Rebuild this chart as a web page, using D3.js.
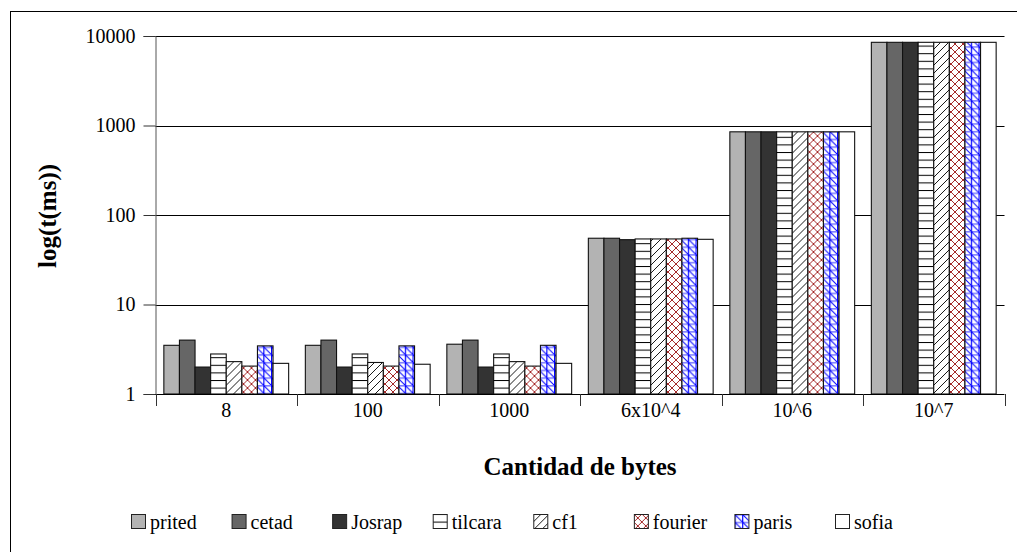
<!DOCTYPE html>
<html>
<head>
<meta charset="utf-8">
<script src="https://cdn.jsdelivr.net/npm/d3@7"></script>
<style>
  html, body { margin: 0; padding: 0; background: #fff; }
  svg { display: block; font-family: "Liberation Serif", "Times New Roman", serif; }
</style>
</head>
<body>
<svg id="chart" width="1017" height="552"></svg>
<script>
// Message sizes and run times (ms) for each program
const categories = ["8", "100", "1000", "6x10^4", "10^6", "10^7"];
const seriesNames = ["prited", "cetad", "Josrap", "tilcara", "cf1", "fourier", "paris", "sofia"];
const prited  = [3.5, 3.5, 3.6, 55, 850, 8500];
const cetad   = [4.0, 4.0, 4.0, 55, 850, 8500];
const josrap  = [2.0, 2.0, 2.0, 53, 850, 8500];
const tilcara = [2.8, 2.8, 2.8, 54, 850, 8500];
const cf1     = [2.3, 2.25, 2.3, 54, 850, 8500];
const fourier = [2.05, 2.05, 2.05, 54, 850, 8500];
const paris   = [3.45, 3.45, 3.5, 55, 850, 8500];
const sofia   = [2.2, 2.15, 2.2, 53.5, 850, 8500];
const seriesValues = [prited, cetad, josrap, tilcara, cf1, fourier, paris, sofia];
const yTicks = [1, 10, 100, 1000, 10000];

const svg = d3.select("#chart");
const defs = svg.append("defs");

// Fill patterns
function pat(id, w, h, draw) {
  const p = defs.append("pattern").attr("id", id)
    .attr("patternUnits", "userSpaceOnUse").attr("width", w).attr("height", h);
  p.append("rect").attr("width", w).attr("height", h).attr("fill", "#fff");
  draw(p, w, h);
}
pat("p-tilcara", 8, 7.6, (p, w, h) => {
  p.append("line").attr("x1", 0).attr("x2", w).attr("y1", 0.5).attr("y2", 0.5)
    .attr("stroke", "#000").attr("stroke-width", 1);
});
pat("p-cf1", 8, 8, (p, w, h) => {
  p.append("path").attr("d", "M-1,9 L9,-1 M-1,1 L1,-1 M7,9 L9,7")
    .attr("stroke", "#000").attr("stroke-width", 0.9).attr("fill", "none");
});
pat("p-fourier", 8, 8, (p, w, h) => {
  p.append("path").attr("d", "M-1,9 L9,-1 M-1,1 L1,-1 M7,9 L9,7 M-1,-1 L9,9 M7,-1 L9,1 M-1,7 L1,9")
    .attr("stroke", "#a52a2a").attr("stroke-width", 1).attr("fill", "none");
});
pat("p-paris", 7.7, 7.7, (p, w, h) => {
  p.append("rect").attr("width", w).attr("height", 1.6).attr("fill", "#7f7fff");
  p.append("rect").attr("width", 1.2).attr("height", h).attr("fill", "#0000ff");
  p.append("path").attr("d", `M0,0 L${w},${h}`)
    .attr("stroke", "#0000ff").attr("stroke-width", 1).attr("fill", "none");
});

const fills = ["#b3b3b3", "#666666", "#333333", "url(#p-tilcara)", "url(#p-cf1)",
               "url(#p-fourier)", "url(#p-paris)", "#ffffff"];

// Outer frame
svg.append("rect").attr("x", 10.5).attr("y", 11.5).attr("width", 1030).attr("height", 560)
  .attr("fill", "none").attr("stroke", "#000").attr("stroke-width", 1);

// Scales
const plotLeft = 155.5, plotRight = 1004.5, plotTop = 36, plotBottom = 394;
const x = d3.scaleBand().domain(categories).range([plotLeft, plotRight]).padding(0);
const xs = d3.scaleBand().domain(seriesNames).range([0, x.bandwidth()])
  .paddingInner(0).paddingOuter(0.535);
const y = d3.scaleLog().domain([1, 10000]).range([plotBottom, plotTop]);

// Gridlines
svg.append("g").selectAll("line").data(yTicks.slice(1)).join("line")
  .attr("x1", plotLeft).attr("x2", plotRight)
  .attr("y1", d => Math.round(y(d)) + 0.5).attr("y2", d => Math.round(y(d)) + 0.5)
  .attr("stroke", "#000").attr("stroke-width", 1);

// Bars
const groups = svg.append("g").selectAll("g").data(categories).join("g")
  .attr("transform", d => `translate(${x(d)},0)`);
groups.selectAll("rect").data((c, ci) => seriesNames.map((s, si) => ({ s, si, v: seriesValues[si][ci] })))
  .join("rect")
  .attr("x", d => xs(d.s))
  .attr("width", xs.bandwidth())
  .attr("y", d => y(d.v))
  .attr("height", d => y(1) - y(d.v))
  .attr("fill", d => fills[d.si])
  .attr("stroke", "#111").attr("stroke-width", 1.1);

// Y axis
const yAxis = d3.axisLeft(y).tickValues(yTicks).tickFormat(d3.format("d"))
  .tickSize(12).tickPadding(8);
const gy = svg.append("g").attr("transform", `translate(${plotLeft},0)`).call(yAxis);
gy.select(".domain").attr("stroke", "#555");
gy.selectAll(".tick line").attr("stroke", "#333");
gy.selectAll("text").attr("font-size", 20).attr("font-family", "Liberation Serif").attr("fill", "#000");

// X axis
const xAxis = d3.axisBottom(x).tickSize(0).tickPadding(6);
const gx = svg.append("g").attr("transform", `translate(0,${plotBottom})`).call(xAxis);
gx.select(".domain").remove();
gx.selectAll("text").attr("font-size", 20).attr("font-family", "Liberation Serif").attr("fill", "#000")
  .attr("dy", "0.85em");
svg.append("line").attr("x1", plotLeft).attr("x2", plotRight)
  .attr("y1", plotBottom + 0.5).attr("y2", plotBottom + 0.5).attr("stroke", "#000");
// Group separators below the axis
svg.append("g").selectAll("line").data(categories.concat(["end"])).join("line")
  .attr("x1", (d, i) => Math.round(plotLeft + i * x.bandwidth()) + 0.5)
  .attr("x2", (d, i) => Math.round(plotLeft + i * x.bandwidth()) + 0.5)
  .attr("y1", plotBottom).attr("y2", plotBottom + 12)
  .attr("stroke", "#333");

// Axis titles
svg.append("text").attr("x", 580).attr("y", 475).attr("text-anchor", "middle")
  .attr("font-size", 25).attr("font-weight", "bold").text("Cantidad de bytes");
svg.append("text").attr("transform", "translate(56,216) rotate(-90)").attr("text-anchor", "middle")
  .attr("font-size", 25).attr("font-weight", "bold").text("log(t(ms))");

// Legend
const legendX = d3.scalePoint().domain(seriesNames).range([131, 835]);
const lg = svg.append("g").selectAll("g").data(seriesNames).join("g")
  .attr("transform", d => `translate(${legendX(d)},514)`);
lg.append("rect").attr("x", 0.5).attr("y", 0.5).attr("width", 14).attr("height", 14)
  .attr("fill", (d, i) => fills[i]).attr("stroke", "#222");
lg.append("text").attr("x", 19).attr("y", 14.5).attr("font-size", 20).text(d => d);
</script>
</body>
</html>
